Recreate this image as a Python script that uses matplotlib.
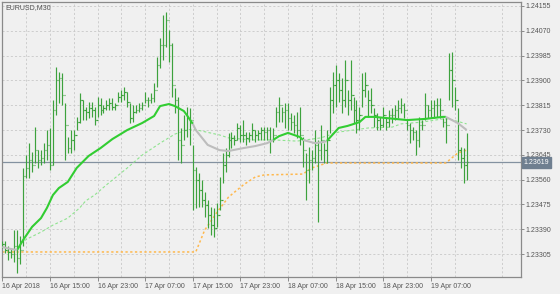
import matplotlib
matplotlib.use("Agg")
import matplotlib.pyplot as plt
from matplotlib.collections import LineCollection
from matplotlib.transforms import blended_transform_factory

# ---------------- data ----------------
highs = [
    1.23350, 1.23350, 1.23332, 1.23326, 1.23387, 1.23387, 1.23367, 1.23600, 1.23644, 1.23685,
    1.23655, 1.23740, 1.23661, 1.23661, 1.23685, 1.23730, 1.23737, 1.23833, 1.23946, 1.23929,
    1.23925, 1.23823, 1.23706, 1.23730, 1.23730, 1.23775, 1.23857, 1.23833, 1.23809, 1.23826,
    1.23826, 1.23809, 1.23843, 1.23840,
    1.23816, 1.23833, 1.23840, 1.23840, 1.23823,
    1.23860, 1.23867, 1.23877, 1.23860, 1.23823, 1.23816, 1.23816, 1.23823, 1.23826, 1.23860,
    1.23843, 1.23857, 1.23891, 1.23980, 1.24045, 1.24124, 1.24134, 1.24073, 1.24028, 1.23874,
    1.23843, 1.23737, 1.23781, 1.23809, 1.23805, 1.23679, 1.23603, 1.23583, 1.23559, 1.23518,
    1.23490, 1.23466, 1.23463, 1.23480, 1.23569, 1.23651, 1.23668, 1.23720, 1.23723, 1.23713,
    1.23754, 1.23747, 1.23764, 1.23723, 1.23723, 1.23754, 1.23730, 1.23730, 1.23740, 1.23740,
    1.23740, 1.23740, 1.23737, 1.23809, 1.23843, 1.23809, 1.23823, 1.23823,
    1.23788, 1.23781, 1.23792, 1.23809, 1.23706, 1.23651, 1.23672, 1.23661, 1.23730, 1.23696, 1.23747,
    1.23685, 1.23730, 1.23877, 1.23929, 1.23953, 1.23925, 1.23908, 1.23970, 1.23867, 1.23970,
    1.23843, 1.23833, 1.23809, 1.23925, 1.23929, 1.23867, 1.23874, 1.23805, 1.23788, 1.23775,
    1.23809, 1.23775, 1.23799, 1.23805, 1.23816, 1.23833, 1.23840, 1.23823, 1.23764, 1.23754,
    1.23740, 1.23730, 1.23775, 1.23764, 1.23857, 1.23816, 1.23833, 1.23833, 1.23840, 1.23840,
    1.23771, 1.23775, 1.23994, 1.23997, 1.23877, 1.23805, 1.23672, 1.23668, 1.23720,
]
lows = [
    1.23326, 1.23308, 1.23285, 1.23291, 1.23278, 1.23240, 1.23271, 1.23332, 1.23566, 1.23566,
    1.23586, 1.23617, 1.23600, 1.23610, 1.23617, 1.23627, 1.23593, 1.23610, 1.23781, 1.23823,
    1.23816, 1.23627, 1.23651, 1.23651, 1.23661, 1.23730, 1.23754, 1.23764, 1.23764, 1.23771,
    1.23775, 1.23747, 1.23775, 1.23781,
    1.23788, 1.23799, 1.23799, 1.23799, 1.23799,
    1.23826, 1.23826, 1.23833, 1.23809, 1.23754, 1.23757, 1.23788, 1.23792, 1.23799, 1.23823,
    1.23809, 1.23823, 1.23826, 1.23877, 1.23943, 1.23970, 1.24015, 1.23963, 1.23843, 1.23788,
    1.23627, 1.23617, 1.23696, 1.23706, 1.23679, 1.23456, 1.23463, 1.23466, 1.23466, 1.23432,
    1.23394, 1.23370, 1.23363, 1.23398, 1.23456, 1.23548, 1.23586, 1.23637, 1.23668, 1.23679,
    1.23696, 1.23689, 1.23689, 1.23679, 1.23689, 1.23696, 1.23689, 1.23696, 1.23696, 1.23696,
    1.23696, 1.23651, 1.23689, 1.23740, 1.23757, 1.23757, 1.23737, 1.23730,
    1.23730, 1.23720, 1.23703, 1.23679, 1.23603, 1.23490, 1.23548, 1.23593, 1.23617, 1.23415, 1.23627,
    1.23617, 1.23617, 1.23720, 1.23788, 1.23809, 1.23826, 1.23788, 1.23809, 1.23781, 1.23799,
    1.23754, 1.23720, 1.23730, 1.23809, 1.23843, 1.23775, 1.23788, 1.23740, 1.23730, 1.23730,
    1.23740, 1.23730, 1.23740, 1.23754, 1.23764, 1.23771, 1.23788, 1.23771, 1.23730, 1.23685,
    1.23696, 1.23644, 1.23672, 1.23730, 1.23764, 1.23771, 1.23771, 1.23771, 1.23775, 1.23771,
    1.23740, 1.23685, 1.23833, 1.23809, 1.23799, 1.23627, 1.23600, 1.23548, 1.23559,
]
closes = [
    1.23339, 1.23319, 1.23312, 1.23305, 1.23332, 1.23291, 1.23319, 1.23572, 1.23600, 1.23627,
    1.23610, 1.23661, 1.23627, 1.23634, 1.23661, 1.23679, 1.23610, 1.23799, 1.23901, 1.23908,
    1.23850, 1.23747, 1.23668, 1.23696, 1.23713, 1.23757, 1.23833, 1.23799, 1.23792, 1.23805,
    1.23799, 1.23764, 1.23816, 1.23799,
    1.23805, 1.23816, 1.23823, 1.23809, 1.23816,
    1.23843, 1.23850, 1.23860, 1.23826, 1.23771, 1.23792, 1.23799, 1.23805, 1.23816, 1.23833,
    1.23833, 1.23840, 1.23867, 1.23953, 1.24021, 1.24021, 1.24107, 1.24021, 1.23884, 1.23833,
    1.23696, 1.23679, 1.23730, 1.23771, 1.23764, 1.23593, 1.23559, 1.23524, 1.23490, 1.23473,
    1.23439, 1.23404, 1.23394, 1.23439, 1.23490, 1.23610, 1.23644, 1.23696, 1.23703, 1.23696,
    1.23737, 1.23713, 1.23713, 1.23703, 1.23713, 1.23730, 1.23713, 1.23720, 1.23730, 1.23723,
    1.23730, 1.23696, 1.23713, 1.23792, 1.23816, 1.23792, 1.23799, 1.23771,
    1.23757, 1.23747, 1.23730, 1.23713, 1.23661, 1.23593, 1.23627, 1.23634, 1.23679, 1.23661, 1.23696,
    1.23661, 1.23696, 1.23833, 1.23884, 1.23901, 1.23867, 1.23833, 1.23901, 1.23833, 1.23850,
    1.23799, 1.23764, 1.23781, 1.23867, 1.23884, 1.23833, 1.23816, 1.23781, 1.23764, 1.23747,
    1.23781, 1.23757, 1.23781, 1.23781, 1.23799, 1.23805, 1.23816, 1.23799, 1.23747, 1.23730,
    1.23723, 1.23696, 1.23747, 1.23747, 1.23816, 1.23799, 1.23805, 1.23816, 1.23816, 1.23799,
    1.23757, 1.23747, 1.23936, 1.23901, 1.23833, 1.23661, 1.23634, 1.23610, 1.23619,
]

# fast moving average (thick line), sampled at bar indices
fast_idx = [0, 3, 5, 7, 10, 13, 15, 17, 19, 22, 25, 29, 33, 37, 42, 47, 51, 53, 56, 58,
            61, 62, 64, 65, 69, 73, 76, 81, 85, 89, 91, 93, 96, 100, 101, 105, 108, 109,
            113, 116, 120, 122, 125, 129, 136, 142, 148, 149, 153, 156]
fast_val = [1.23329, 1.23322, 1.23319, 1.23353, 1.23398, 1.23428, 1.23463, 1.23507, 1.23531,
            1.23552, 1.23600, 1.23641, 1.23668, 1.23699, 1.23730, 1.23754, 1.23778, 1.23812,
            1.23819, 1.23812, 1.23795, 1.23781, 1.23751, 1.23730, 1.23679, 1.23661, 1.23658,
            1.23668, 1.23675, 1.23685, 1.23696, 1.23709, 1.23720, 1.23706, 1.23696, 1.23685,
            1.23689, 1.23692, 1.23737, 1.23744, 1.23757, 1.23775, 1.23775, 1.23771, 1.23764,
            1.23768, 1.23775, 1.23775, 1.23754, 1.23730]
fast_green_ranges = [(5, 64), (91, 101), (109, 149)]
fast_gray_ranges = [(0, 5), (64, 91), (101, 109), (149, 156)]

# slow moving average (dashed)
slow_idx = [6, 9, 13, 17, 22, 26, 28, 31, 35, 42, 47, 53, 58, 62, 64, 73, 76, 84, 91, 99,
            107, 113, 123, 131, 134, 141, 148, 150, 156]
slow_val = [1.23343, 1.23360, 1.23380, 1.23404, 1.23428, 1.23463, 1.23487, 1.23507, 1.23542,
            1.23600, 1.23644, 1.23685, 1.23716, 1.23730, 1.23733, 1.23713, 1.23703, 1.23696,
            1.23696, 1.23692, 1.23703, 1.23723, 1.23737, 1.23740, 1.23751, 1.23757, 1.23768,
            1.23768, 1.23751]

# orange dotted level
orange_idx = [0, 65, 68, 72, 76, 81, 85, 88, 101, 104, 107, 109, 149, 151, 153, 156]
orange_val = [1.23312, 1.23312, 1.23387, 1.23446, 1.23500, 1.23542, 1.23569, 1.23576,
              1.23579, 1.23600, 1.23610, 1.23617, 1.23617, 1.23634, 1.23651, 1.23661]

current_price = 1.23619
y_ticks = [1.24155, 1.24070, 1.23985, 1.23900, 1.23815, 1.23730, 1.23645,
           1.23560, 1.23475, 1.23390, 1.23305]
x_tick_idx = [0, 16, 32, 48, 64, 80, 96, 112, 128, 144]
x_tick_labels = ["16 Apr 2018", "16 Apr 15:00", "16 Apr 23:00", "17 Apr 07:00",
                 "17 Apr 15:00", "17 Apr 23:00", "18 Apr 07:00", "18 Apr 15:00",
                 "18 Apr 23:00", "19 Apr 07:00"]
title = "EURUSD,M30"

# ---------------- style ----------------
BG = "#f0f0f0"
GRID = "#c8c8c8"
AXC = "#8a8a8a"
TXT = "#555555"
BAR = "#3da23d"
FAST = "#32cd32"
FAST_DN = "#bdbdbd"
SLOW = "#8fe38f"
ORANGE = "#ffb84d"
PRICE = "#8391a0"
FONT = "Liberation Sans"

W, H = 560, 294
fig = plt.figure(figsize=(W / 100, H / 100), dpi=100, facecolor=BG)
ax = fig.add_axes([2 / W, 17 / H, 518.5 / W, 275 / H], facecolor=BG)

ax.set_xlim(-0.1, 174.1)
ax.set_ylim(1.232262, 1.241687)

# grid
ax.set_yticks(y_ticks)
ax.set_xticks(x_tick_idx)
ax.set_xticks(list(range(8, 174, 16)), minor=True)
ax.grid(True, which="both", axis="x", color=GRID, linestyle=(0, (2.5, 2.5)), linewidth=0.6)
ax.grid(True, which="major", axis="y", color=GRID, linestyle=(0, (2.5, 2.5)), linewidth=0.6)
ax.set_axisbelow(True)

# current price line
ax.axhline(current_price, color=PRICE, linewidth=0.9, zorder=1)

# orange and slow lines
ax.plot(orange_idx, orange_val, color=ORANGE, linewidth=1.1, linestyle=(0, (1.5, 1.6)), zorder=2)
ax.plot(slow_idx, slow_val, color=SLOW, linewidth=0.8, linestyle=(0, (2.5, 2.0)), zorder=2)

# bars (high-low with open/close ticks)
segs = []
for i in range(len(highs)):
    segs.append([(i, lows[i]), (i, highs[i])])
    segs.append([(i, closes[i]), (i + 0.42, closes[i])])
    if i > 0:
        segs.append([(i - 0.42, closes[i - 1]), (i, closes[i - 1])])
lc = LineCollection(segs, colors=BAR, linewidths=0.85, zorder=3)
ax.add_collection(lc)


def plot_ranges(ranges, color, z):
    for a, b in ranges:
        xs = [x for x in fast_idx if a <= x <= b]
        ys = [v for x, v in zip(fast_idx, fast_val) if a <= x <= b]
        ax.plot(xs, ys, color=color, linewidth=1.5, zorder=z, solid_capstyle="butt",
                solid_joinstyle="round")


# fast MA: green rising parts, gray falling parts
plot_ranges(fast_green_ranges, FAST, 4)
plot_ranges(fast_gray_ranges, FAST_DN, 4)

# axes styling
for s in ax.spines.values():
    s.set_color(AXC)
    s.set_linewidth(0.9)
ax.yaxis.tick_right()
ax.tick_params(axis="y", which="major", direction="out", length=2.5, width=0.7,
               colors=AXC, labelcolor=TXT, labelsize=5, pad=1)
ax.tick_params(axis="x", which="major", direction="out", length=3, width=0.7,
               colors=AXC, labelcolor=TXT, labelsize=5, pad=1)
ax.tick_params(axis="x", which="minor", length=0)
ax.set_yticklabels([f"{v:.5f}" for v in y_ticks], fontfamily=FONT)
ax.set_xticklabels(x_tick_labels, fontfamily=FONT, ha="left")

# current price label on the right axis
tr = blended_transform_factory(ax.transAxes, ax.transData)
ax.text(1.006, current_price, f"{current_price:.5f}", transform=tr, ha="left", va="center",
        fontsize=5, color="white", fontfamily=FONT, zorder=10, clip_on=False,
        bbox=dict(boxstyle="square,pad=0.25", facecolor="#6f7f90", edgecolor="#6f7f90"))

# title
ax.text(0.006, 0.992, title, transform=ax.transAxes, ha="left", va="top",
        fontsize=5, color="#505050", fontfamily=FONT)

fig.savefig("out.png", dpi=100, facecolor=BG)
